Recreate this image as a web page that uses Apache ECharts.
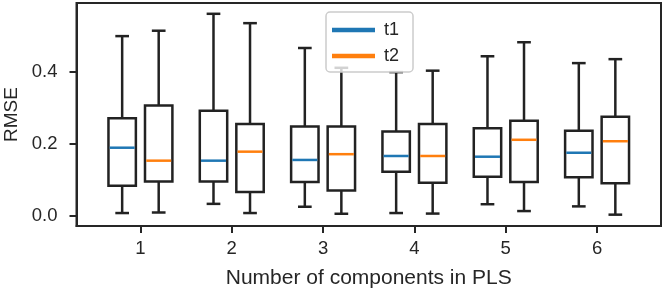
<!DOCTYPE html>
<html>
<head>
<meta charset="utf-8">
<script src="https://cdn.jsdelivr.net/npm/echarts@6/dist/echarts.min.js"></script>
<style>
html,body{margin:0;padding:0;background:#fff;}
#chart{width:665px;height:290px;}
</style>
</head>
<body>
<div id="chart"></div>
<script>
// Categories (number of PLS components)
const categories = [1, 2, 3, 4, 5, 6];
// Box statistics per category: [lower whisker, Q1, median, Q3, upper whisker]
const t1Stats = [
  [0.0075, 0.083, 0.189, 0.271, 0.499],
  [0.033, 0.095, 0.153, 0.292, 0.561],
  [0.025, 0.094, 0.155, 0.248, 0.466],
  [0.0075, 0.122, 0.166, 0.234, 0.399],
  [0.032, 0.108, 0.164, 0.243, 0.443],
  [0.026, 0.107, 0.175, 0.236, 0.424]
];
const t2Stats = [
  [0.009, 0.095, 0.153, 0.306, 0.514],
  [0.0075, 0.066, 0.178, 0.255, 0.535],
  [0.0055, 0.070, 0.171, 0.248, 0.411],
  [0.006, 0.0915, 0.166, 0.255, 0.403],
  [0.013, 0.094, 0.211, 0.264, 0.482],
  [0.003, 0.090, 0.207, 0.275, 0.435]
];
const seriesNames = ['t1', 't2'];
const yTicks = [0.0, 0.2, 0.4];
const yTickLabels = ['0.0', '0.2', '0.4'];
const xLabel = 'Number of components in PLS';
const yLabel = 'RMSE';

const colors = ['#1f77b4', '#ff7f0e'];
const offsets = [-0.2, 0.2];
const boxWidth = 0.3;
const ink = '#222222';

function buildData(stats) {
  return stats.map((s, i) => [categories[i]].concat(s));
}

function makeRender(offset, color) {
  return function (params, api) {
    const x = api.value(0) + offset;
    const pMin = api.coord([x, api.value(1)]);
    const pQ1 = api.coord([x, api.value(2)]);
    const pMed = api.coord([x, api.value(3)]);
    const pQ3 = api.coord([x, api.value(4)]);
    const pMax = api.coord([x, api.value(5)]);
    const half = api.size([boxWidth, 0])[0] / 2;
    const cap = half / 2;
    const cx = pMed[0];
    const lineStyle = { stroke: ink, lineWidth: 2.5, fill: null };
    return {
      type: 'group',
      children: [
        { type: 'line', shape: { x1: cx, y1: pMin[1], x2: cx, y2: pQ1[1] }, style: lineStyle },
        { type: 'line', shape: { x1: cx, y1: pQ3[1], x2: cx, y2: pMax[1] }, style: lineStyle },
        { type: 'line', shape: { x1: cx - cap, y1: pMin[1], x2: cx + cap, y2: pMin[1] }, style: lineStyle },
        { type: 'line', shape: { x1: cx - cap, y1: pMax[1], x2: cx + cap, y2: pMax[1] }, style: lineStyle },
        { type: 'rect', shape: { x: cx - half, y: pQ3[1], width: 2 * half, height: pQ1[1] - pQ3[1] },
          style: { stroke: ink, lineWidth: 2.5, fill: '#ffffff' } },
        { type: 'line', shape: { x1: cx - half + 1.2, y1: pMed[1], x2: cx + half - 1.2, y2: pMed[1] },
          style: { stroke: color, lineWidth: 2.5 } }
      ]
    };
  };
}

const chart = echarts.init(document.getElementById('chart'), null, { renderer: 'canvas' });
const textFont = 'Liberation Sans, Arial, Helvetica, sans-serif';

chart.setOption({
  animation: false,
  backgroundColor: '#ffffff',
  textStyle: { fontFamily: textFont, color: '#262626' },
  grid: {
    left: 76.5, right: 4, top: 3, bottom: 64,
    containLabel: false, outerBoundsMode: 'none',
    show: true, borderColor: '#262626', borderWidth: 2, backgroundColor: 'transparent'
  },
  legend: {
    orient: 'vertical',
    left: 326, top: 12,
    data: seriesNames.map((n, i) => ({ name: n, icon: 'rect', itemStyle: { color: colors[i] } })),
    itemWidth: 43, itemHeight: 4.5, itemGap: 8,
    padding: [9, 14, 7, 6],
    backgroundColor: 'rgba(255,255,255,0.8)',
    borderColor: '#cccccc', borderWidth: 1.5, borderRadius: 4,
    textStyle: { fontSize: 18, color: '#262626', fontFamily: textFont, lineHeight: 18, padding: [0, 0, 0, 4] }
  },
  xAxis: {
    type: 'value',
    min: 0.3, max: 6.7,
    name: xLabel,
    nameLocation: 'middle',
    nameGap: 42,
    nameTextStyle: { fontSize: 21, color: '#262626', fontFamily: textFont },
    splitLine: { show: false },
    axisLine: { show: true, onZero: false, lineStyle: { color: '#262626', width: 2 } },
    axisTick: { show: true, length: 7, inside: false, customValues: categories, lineStyle: { color: '#262626', width: 2 } },
    axisLabel: { customValues: categories, fontSize: 18.5, color: '#262626', margin: 13, fontFamily: textFont,
      formatter: v => String(v) }
  },
  yAxis: {
    type: 'value',
    min: -0.0285, max: 0.591,
    name: yLabel,
    nameLocation: 'middle',
    nameGap: 52,
    nameRotate: 90,
    nameTextStyle: { fontSize: 19, color: '#262626', fontFamily: textFont },
    splitLine: { show: false },
    axisLine: { show: true, onZero: false, lineStyle: { color: '#262626', width: 2 } },
    axisTick: { show: true, length: 7, inside: false, customValues: yTicks, lineStyle: { color: '#262626', width: 2 } },
    axisLabel: { customValues: yTicks, fontSize: 18.5, color: '#262626', margin: 19, fontFamily: textFont,
      formatter: v => yTickLabels[yTicks.indexOf(v)] !== undefined ? yTickLabels[yTicks.indexOf(v)] : v.toFixed(1) }
  },
  series: [
    {
      name: seriesNames[0], type: 'custom', color: colors[0],
      renderItem: makeRender(offsets[0], colors[0]),
      encode: { x: 0, y: [1, 2, 3, 4, 5] },
      data: buildData(t1Stats), z: 2
    },
    {
      name: seriesNames[1], type: 'custom', color: colors[1],
      renderItem: makeRender(offsets[1], colors[1]),
      encode: { x: 0, y: [1, 2, 3, 4, 5] },
      data: buildData(t2Stats), z: 2
    }
  ]
});
</script>
</body>
</html>
